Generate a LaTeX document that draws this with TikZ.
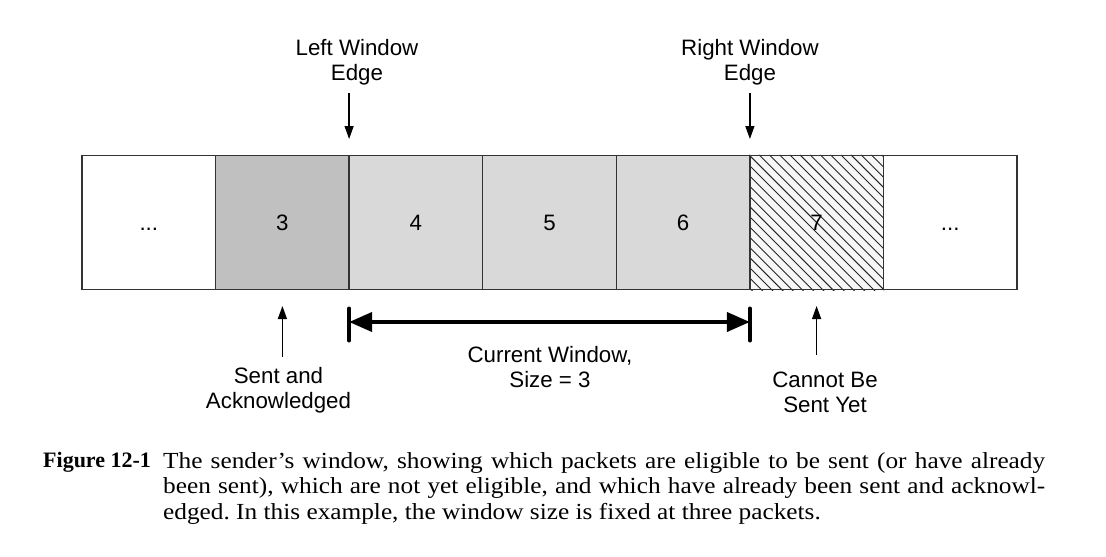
\documentclass[tikz,border=0pt]{standalone}
\usepackage{fontspec}
\setmainfont[FakeStretch=1.1]{Liberation Serif}
\newfontfamily\figfont{Liberation Serif}
\newfontfamily\labelfont{Liberation Sans}
\usetikzlibrary{arrows.meta,backgrounds,calc}
\definecolor{ackgray}{HTML}{C0C0C0}
\definecolor{wingray}{HTML}{D9D9D9}
\definecolor{hatchbg}{HTML}{F7F7F7}
\definecolor{edgegray}{HTML}{333333}
\frenchspacing
\tikzset{
  pkt/.style={draw=edgegray, line width=1.5pt, minimum width=133.57pt, minimum height=133.6pt,
    inner sep=0pt, text height=15.5pt, text depth=0pt, font=\labelfont\fontsize{22.3}{24.8}\selectfont},
  lbl/.style={inner sep=0pt, align=center, font=\labelfont\fontsize{22.3}{24.8}\selectfont},
  thinarrow/.style={line width=1.3pt, -{Triangle[length=13pt,width=9pt]}},
  bigarrow/.style={line width=4pt, {Triangle[length=23pt,width=19pt]}-{Triangle[length=23pt,width=19pt]}},
  endbar/.style={line width=4pt, line cap=round},
  hatchline/.style={black!85, line width=0.9pt}
}
\begin{document}
\begin{tikzpicture}[x=1pt,y=-1pt]
\useasboundingbox (0,0) rectangle (1106,557);
% packet boxes
\node[pkt, fill=white]   (b1) at (148.8,222.5) {...};
\node[pkt, fill=ackgray] (b2) at (282.4,222.5) {3};
\node[pkt, fill=wingray] (b3) at (415.9,222.5) {4};
\node[pkt, fill=wingray] (b4) at (549.5,222.5) {5};
\node[pkt, fill=wingray] (b5) at (683.1,222.5) {6};
\node[pkt, fill=none]    (b6) at (816.6,222.5) {7};
\node[pkt, fill=white]   (b7) at (950.2,222.5) {...};
\begin{scope}[on background layer]
  \fill[hatchbg] (b6.south west) rectangle (b6.north east);
  \clip (b6.south west) rectangle (b6.north east);
  \foreach \k in {-14,...,14}{
    \draw[hatchline] ($(b6.north west)+(\k*10.2,0)$) -- ++(140,140);
  }
\end{scope}
% top labels
\node[lbl, anchor=north] (lw) at (357,39) {Left Window\\Edge};
\node[lbl, anchor=north] (rw) at (750,39) {Right Window\\Edge};
\coordinate (lwtop) at (349.1,93);
\coordinate (lwtip) at (349.1,139);
\coordinate (rwtop) at (749.9,93);
\coordinate (rwtip) at (749.9,139);
\draw[thinarrow] (lwtop) -- (lwtip);
\draw[thinarrow] (rwtop) -- (rwtip);
% bottom labels
\node[lbl, anchor=north] (sa) at (278.5,367) {Sent and\\Acknowledged};
\node[lbl, anchor=north] (cw) at (550,346) {Current Window,\\Size = 3};
\node[lbl, anchor=north] (cb) at (825,372) {Cannot Be\\Sent Yet};
\coordinate (satail) at (282.4,357);
\coordinate (satip) at (282.4,306);
\coordinate (cbtail) at (816.6,355);
\coordinate (cbtip) at (816.6,306);
\draw[thinarrow] (satail) -- (satip);
\draw[thinarrow] (cbtail) -- (cbtip);
% window size arrow
\coordinate (wl) at (349.1,322);
\coordinate (wr) at (749.9,322);
\draw[endbar] ($(wl)+(0,-13.5)$) -- ($(wl)+(0,18.5)$);
\draw[endbar] ($(wr)+(0,-13.5)$) -- ($(wr)+(0,18.5)$);
\draw[bigarrow] (wl) -- (wr);
% caption
\node[inner sep=0pt, anchor=north west, font=\figfont\bfseries\fontsize{22}{25.5}\selectfont] (fig) at (43,452.5) {Figure 12-1};
\node[inner sep=0pt, anchor=north west, align=left, font=\fontsize{23}{25.5}\selectfont] (cap) at (163,452)
  {\makebox[882pt][s]{The sender’s window, showing which packets are eligible to be sent (or have already}\\
   \makebox[882pt][s]{been sent), which are not yet eligible, and which have already been sent and acknowl-}\\
   edged. In this example, the window size is fixed at three packets.};
\end{tikzpicture}
\end{document}
